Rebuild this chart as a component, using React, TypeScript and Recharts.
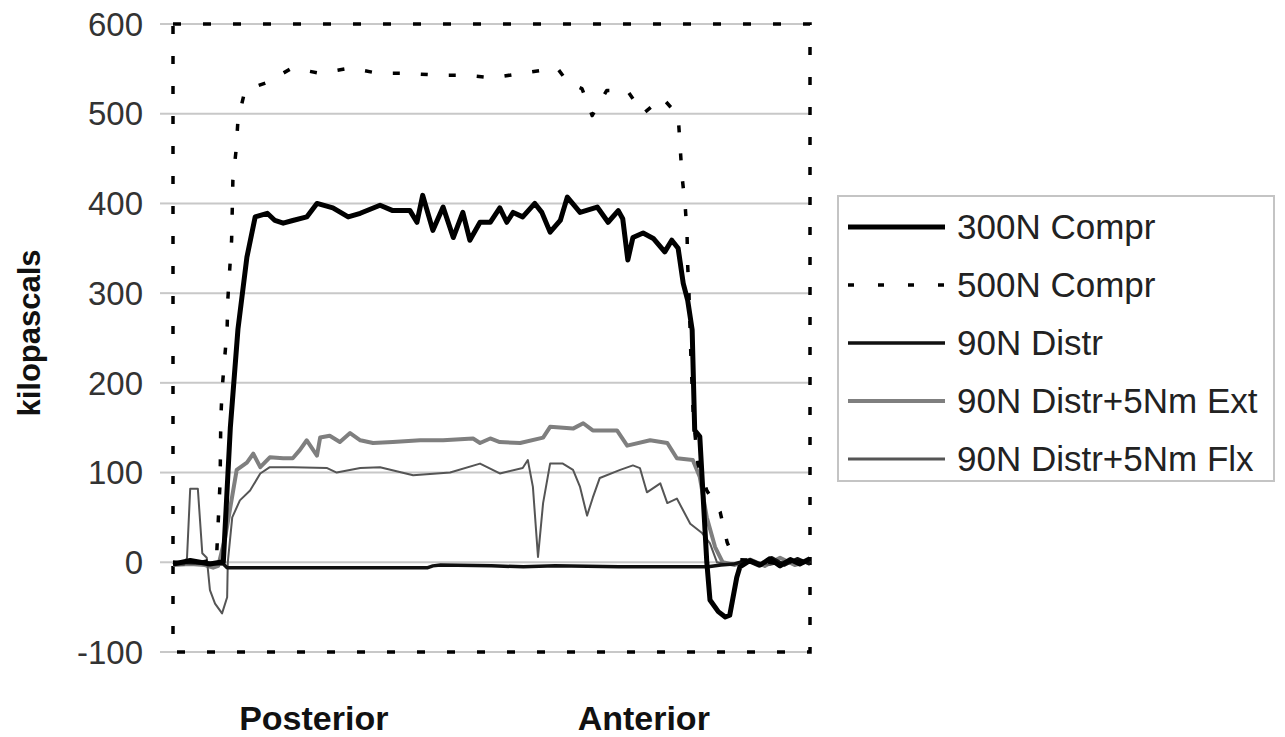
import React from 'react';
import {
  LineChart,
  Line,
  XAxis,
  YAxis,
  CartesianGrid,
  ReferenceArea,
  Legend,
  Label,
} from 'recharts';

// positions across the disc, 0 = posterior edge, 100 = anterior edge
const compr300X = [0, 2.7, 5.8, 7.4, 7.9, 9.0, 10.2, 11.6, 12.9, 14.8, 16.0, 17.3, 18.8, 21.0, 22.6, 25.1, 27.5, 29.4, 32.5, 34.5, 37.2, 38.3, 39.2, 40.8, 42.4, 44.0, 45.5, 46.6, 48.2, 49.8, 51.3, 52.4, 53.4, 54.9, 56.8, 57.9, 59.2, 60.8, 61.9, 63.9, 66.6, 68.3, 69.9, 70.6, 71.4, 72.2, 73.8, 75.4, 77.2, 78.3, 79.3, 80.1, 80.8, 81.5, 81.9, 82.7, 83.8, 84.3, 85.6, 86.7, 87.4, 88.5, 89.0, 90.6, 92.2, 93.7, 95.3, 96.9, 98.4, 100];
const compr300Y = [-2, 2, -2, 0, 0, 150, 260, 340, 385, 389, 381, 378, 381, 385, 400, 395, 385, 389, 398, 392, 392, 379, 409, 370, 396, 362, 390, 359, 379, 379, 395, 379, 390, 385, 400, 390, 368, 381, 407, 390, 396, 379, 392, 383, 337, 362, 367, 361, 346, 359, 350, 311, 292, 259, 147, 140, 0, -42, -55, -61, -59, -17, -5, 2, -3, 4, -4, 3, -2, 4];

const compr500X = [0, 2.7, 5.8, 6.8, 7.4, 7.5, 7.7, 8.5, 8.6, 8.9, 9.2, 9.3, 9.4, 9.9, 10.2, 11.3, 14.8, 18.7, 23.1, 27.8, 32.2, 36.7, 41.4, 45.8, 50.2, 55.6, 60.3, 62.0, 64.2, 65.8, 68.1, 71.3, 73.8, 76.8, 79.3, 79.6, 79.9, 80.4, 80.7, 80.8, 81.0, 81.3, 81.7, 82.4, 83.8, 85.9, 87.0, 88.2, 92.2, 95.3, 100];
const compr500Y = [0, -2, 2, 0, 91, 158, 192, 261, 292, 326, 359, 392, 426, 459, 493, 526, 535, 551, 545, 551, 545, 545, 543, 543, 540, 546, 551, 535, 528, 498, 526, 526, 500, 518, 498, 465, 431, 398, 365, 331, 300, 230, 160, 110, 80, 56, 22, 3, 2, -2, 3];

const distrX = [0, 5.8, 7.9, 8.5, 20, 30, 40, 40.8, 42, 50, 55, 60, 70, 80, 84, 86, 88, 90, 92, 94, 96, 98, 100];
const distrY = [0, -1, -2, -6, -6, -6, -6, -4, -3, -4, -5, -4, -5, -5, -5, -3, -2, 2, -4, 5, -3, 4, -2];

const extX = [0, 2.7, 5.0, 6.3, 7.1, 8.2, 10.0, 11.6, 12.6, 13.7, 15.2, 17.3, 18.8, 19.9, 21.0, 22.6, 23.1, 24.6, 26.2, 27.8, 29.4, 31.4, 34.5, 38.8, 42.4, 47.1, 48.2, 49.8, 51.3, 54.5, 58.1, 59.2, 62.8, 64.4, 65.9, 69.7, 71.3, 74.9, 77.6, 79.1, 81.6, 82.7, 83.8, 85.1, 86.3, 88.2, 90.6, 92.9, 95.3, 97.6, 100];
const extY = [-3, -2, -3, -6, -4, 28, 103, 111, 121, 106, 117, 116, 116, 125, 136, 119, 139, 141, 134, 144, 136, 133, 134, 136, 136, 138, 133, 138, 134, 133, 139, 151, 149, 155, 147, 147, 130, 136, 133, 116, 114, 95, 50, 17, 0, -3, 3, -4, 5, -3, 2];

const flxX = [0, 1.7, 2.2, 2.7, 3.9, 4.6, 5.3, 5.8, 6.6, 7.7, 8.5, 8.6, 9.3, 10.5, 12.1, 13.7, 15.2, 18.8, 24.2, 25.7, 29.4, 32.5, 37.7, 43.5, 48.2, 51.3, 54.9, 55.7, 56.5, 57.3, 58.1, 59.2, 61.2, 62.8, 63.9, 65.0, 65.9, 67.0, 70.2, 72.2, 73.3, 74.4, 76.5, 77.6, 79.1, 81.2, 83.0, 84.3, 85.4, 87.4, 90.6, 93.7, 96.9, 100];
const flxY = [-3, -3, 5, 82, 82, 10, 5, -31, -46, -57, -39, 0, 50, 69, 80, 99, 106, 106, 105, 100, 105, 106, 97, 100, 110, 99, 105, 114, 84, 6, 66, 110, 110, 103, 84, 52, 72, 94, 103, 108, 105, 78, 88, 66, 71, 43, 33, 21, 0, -3, 2, -3, 3, -1];

const yTicks = [-100, 0, 100, 200, 300, 400, 500, 600];
const xTickPos = [22.1, 73.9];
const xTickLabels = ['Posterior', 'Anterior'];

const toPoints = (xs: number[], ys: number[]) => xs.map((x, i) => ({ x, y: ys[i] }));

const series = [
  { name: '300N Compr', data: toPoints(compr300X, compr300Y), color: '#000', width: 5, dash: undefined as string | undefined },
  { name: '500N Compr', data: toPoints(compr500X, compr500Y), color: '#000', width: 3.5, dash: '7 21' },
  { name: '90N Distr', data: toPoints(distrX, distrY), color: '#111', width: 3.5, dash: undefined },
  { name: '90N Distr+5Nm Ext', data: toPoints(extX, extY), color: '#7f7f7f', width: 4, dash: undefined },
  { name: '90N Distr+5Nm Flx', data: toPoints(flxX, flxY), color: '#555', width: 2, dash: undefined },
];

// draw order: grey ones under the black ones
const drawOrder = [3, 4, 2, 1, 0];

const FONT = 'Arial, "Liberation Sans", sans-serif';

const renderLegend = () => (
  <div
    style={{
      width: 438,
      height: 287,
      boxSizing: 'border-box',
      border: '2px solid #c4c4c4',
      background: '#fff',
      paddingTop: 1,
      fontFamily: FONT,
    }}
  >
    {series.map((s) => (
      <div key={s.name} style={{ height: 58, display: 'flex', alignItems: 'center' }}>
        <svg width={118} height={14} style={{ flex: 'none' }}>
          <line
            x1={9}
            x2={106}
            y1={7}
            y2={7}
            stroke={s.color}
            strokeWidth={s.width === 2 ? 3 : s.width}
            strokeDasharray={s.dash ? '6 24' : undefined}
          />
        </svg>
        <span style={{ fontSize: 35, color: '#222', whiteSpace: 'nowrap' }}>{s.name}</span>
      </div>
    ))}
  </div>
);

const XTick = (props: any) => {
  const idx = xTickPos.indexOf(props.payload.value);
  return (
    <text
      x={props.x}
      y={props.y + 78}
      textAnchor="middle"
      fontFamily={FONT}
      fontWeight="bold"
      fontSize={34}
      fill="#111"
    >
      {xTickLabels[idx]}
    </text>
  );
};

const YLabel = (props: any) => {
  const vb = props.viewBox;
  const cx = vb.x + 29;
  const cy = vb.y + vb.height / 2 - 5;
  return (
    <text
      x={cx}
      y={cy}
      transform={`rotate(-90, ${cx}, ${cy})`}
      textAnchor="middle"
      dominantBaseline="central"
      fontFamily={FONT}
      fontWeight="bold"
      fontSize={31}
      fill="#111"
    >
      kilopascals
    </text>
  );
};

const App: React.FC = () => {
  return (
    <div style={{ position: 'absolute', left: 0, top: 0, width: 1285, height: 737, background: '#fff' }}>
      <LineChart width={1285} height={737} margin={{ top: 24, right: 475, bottom: 15, left: 0 }}>
        <CartesianGrid vertical={false} stroke="#c8c8c8" strokeWidth={2} />
        <XAxis
          type="number"
          dataKey="x"
          domain={[0, 100]}
          ticks={xTickPos}
          tick={<XTick />}
          tickLine={false}
          axisLine={false}
          tickSize={0}
          tickMargin={0}
          height={70}
          allowDuplicatedCategory={false}
        />
        <YAxis
          type="number"
          dataKey="y"
          domain={[-100, 600]}
          ticks={yTicks}
          width={173}
          axisLine={false}
          tickLine={{ stroke: '#c8c8c8', strokeWidth: 2 }}
          tickSize={13}
          tickMargin={17}
          tick={{ fontSize: 33, fill: '#333', fontFamily: FONT }}
        >
          <Label content={<YLabel />} position="center" />
        </YAxis>
        {drawOrder.map((i) => {
          const s = series[i];
          return (
            <Line
              key={s.name}
              data={s.data}
              dataKey="y"
              name={s.name}
              type="linear"
              stroke={s.color}
              strokeWidth={s.width}
              strokeDasharray={s.dash}
              strokeLinejoin="round"
              dot={false}
              activeDot={false}
              isAnimationActive={false}
            />
          );
        })}
        <ReferenceArea
          x1={0}
          x2={100}
          y1={-100}
          y2={600}
          fill="none"
          fillOpacity={0}
          stroke="#000"
          strokeWidth={3.5}
          strokeDasharray="8 22"
        />
        <Legend
          content={renderLegend}
          layout="vertical"
          align="center"
          verticalAlign="middle"
          wrapperStyle={{ position: 'absolute', left: 837, top: 195, width: 438, height: 287 }}
        />
      </LineChart>
    </div>
  );
};

export default App;
